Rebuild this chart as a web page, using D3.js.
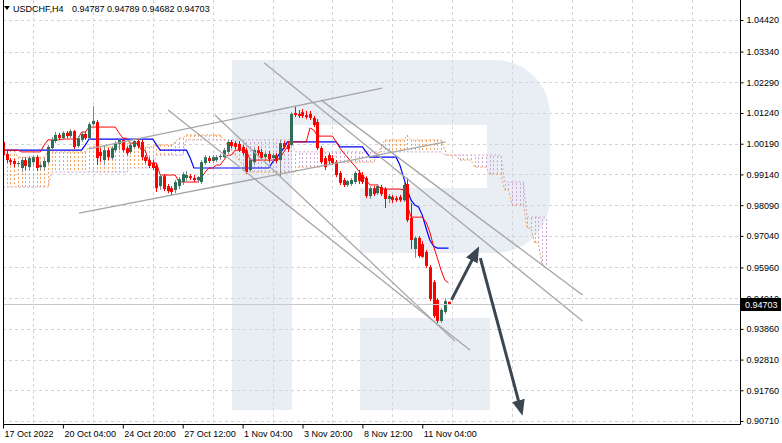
<!DOCTYPE html>
<html>
<head>
<meta charset="utf-8">
<script src="https://cdn.jsdelivr.net/npm/d3@7/dist/d3.min.js"></script>
<style>
  body { margin: 0; background: #fff; }
  svg { display: block; font-family: "Liberation Sans", Arial, sans-serif; }
</style>
</head>
<body>
<div id="chart"></div>
<script>
// ---- data (H4 bars, first bar = 17 Oct 2022 12:00) ----
const symbol = "USDCHF,H4";
const lastQuote = [0.94787, 0.94789, 0.94682, 0.94703];

const openP = [1.0025,0.9984,0.9963,0.9960,0.9950,0.9936,0.9963,0.9939,0.9956,0.9973,
  0.9939,0.9939,0.9956,1.0004,1.0028,1.0049,1.0038,1.0056,1.0045,1.0062,
  1.0011,1.0032,1.0052,1.0038,1.0086,1.0093,0.9991,0.9963,0.9997,0.9970,
  0.9997,1.0018,1.0032,1.0004,0.9991,1.0008,1.0028,1.0025,0.9973,0.9963,
  0.9953,0.9943,0.9874,0.9908,0.9874,0.9867,0.9861,0.9874,0.9888,0.9902,
  0.9908,0.9902,0.9895,0.9888,0.9953,0.9970,0.9960,0.9963,0.9973,0.9973,
  0.9991,1.0025,1.0021,1.0018,1.0008,0.9997,0.9929,0.9956,0.9997,0.9991,
  0.9973,0.9984,0.9970,0.9980,0.9963,1.0021,1.0015,1.0015,1.0124,1.0121,
  1.0127,1.0117,1.0121,1.0107,1.0093,1.0004,0.9970,0.9980,0.9970,0.9956,
  0.9919,0.9895,0.9878,0.9881,0.9888,0.9919,0.9912,0.9902,0.9840,0.9867,
  0.9850,0.9871,0.9864,0.9830,0.9837,0.9833,0.9837,0.9826,0.9881,0.9765,
  0.9659,0.9697,0.9676,0.9649,0.9597,0.9546,0.9485,0.9413,0.9444,0.94787];

const highP = [1.0038,0.9997,0.9970,0.9967,0.9960,0.9973,0.9973,0.9977,0.9980,0.9980,
  0.9953,0.9970,1.0015,1.0042,1.0059,1.0056,1.0062,1.0062,1.0069,1.0066,
  1.0045,1.0059,1.0059,1.0093,1.0148,1.0100,1.0004,1.0011,1.0004,1.0011,
  1.0028,1.0038,1.0038,1.0011,1.0021,1.0035,1.0035,1.0032,0.9980,0.9973,
  0.9963,0.9950,0.9915,0.9915,0.9881,0.9874,0.9895,0.9905,0.9922,0.9926,
  0.9915,0.9912,0.9908,0.9963,0.9980,0.9977,0.9980,0.9980,0.9984,1.0004,
  1.0032,1.0032,1.0028,1.0028,1.0015,1.0004,0.9970,1.0004,1.0011,1.0001,
  0.9991,0.9994,0.9987,0.9987,1.0032,1.0028,1.0028,1.0127,1.0145,1.0134,
  1.0138,1.0131,1.0131,1.0114,1.0103,1.0011,0.9977,0.9987,0.9980,0.9963,
  0.9926,0.9902,0.9895,0.9902,0.9926,0.9929,0.9922,0.9908,0.9874,0.9874,
  0.9881,0.9878,0.9871,0.9847,0.9844,0.9840,0.9844,0.9885,0.9902,0.9816,
  0.9703,0.9703,0.9686,0.9656,0.9604,0.9553,0.9491,0.9457,0.9491,0.94789];

const lowP = [0.9970,0.9953,0.9946,0.9939,0.9939,0.9922,0.9929,0.9929,0.9943,0.9926,
  0.9929,0.9929,0.9950,0.9997,1.0021,1.0032,1.0032,1.0038,1.0038,1.0001,
  1.0004,1.0025,1.0032,1.0032,1.0080,0.9946,0.9956,0.9946,0.9963,0.9963,
  0.9991,0.9997,0.9991,0.9980,0.9984,1.0001,1.0004,0.9963,0.9953,0.9936,
  0.9929,0.9854,0.9861,0.9857,0.9850,0.9844,0.9850,0.9864,0.9878,0.9891,
  0.9895,0.9888,0.9885,0.9881,0.9946,0.9953,0.9953,0.9956,0.9963,0.9970,
  0.9984,1.0004,1.0001,0.9991,0.9980,0.9915,0.9922,0.9946,0.9977,0.9963,
  0.9963,0.9956,0.9960,0.9953,0.9905,1.0001,0.9991,1.0011,1.0110,1.0107,
  1.0107,1.0103,1.0100,1.0076,0.9997,0.9950,0.9929,0.9950,0.9946,0.9905,
  0.9878,0.9871,0.9871,0.9874,0.9881,0.9881,0.9881,0.9833,0.9830,0.9840,
  0.9844,0.9840,0.9799,0.9816,0.9816,0.9820,0.9820,0.9820,0.9751,0.9659,
  0.9629,0.9629,0.9629,0.9594,0.9481,0.9423,0.9406,0.9406,0.9437,0.94682];

const closeP = [0.9980,0.9963,0.9956,0.9950,0.9953,0.9963,0.9943,0.9970,0.9973,0.9936,
  0.9946,0.9960,1.0008,1.0032,1.0049,1.0038,1.0056,1.0045,1.0062,1.0008,
  1.0038,1.0052,1.0038,1.0086,1.0097,0.9970,0.9977,0.9997,0.9973,1.0004,
  1.0021,1.0032,0.9997,0.9987,1.0015,1.0028,1.0011,0.9973,0.9960,0.9943,
  0.9936,0.9867,0.9908,0.9864,0.9857,0.9854,0.9888,0.9898,0.9915,0.9912,
  0.9902,0.9895,0.9905,0.9956,0.9973,0.9960,0.9973,0.9973,0.9977,0.9997,
  1.0025,1.0011,1.0008,0.9997,0.9987,0.9922,0.9963,0.9997,0.9987,0.9970,
  0.9984,0.9967,0.9980,0.9960,1.0021,1.0008,1.0001,1.0121,1.0117,1.0114,
  1.0114,1.0110,1.0107,1.0083,1.0004,0.9956,0.9939,0.9960,0.9953,0.9912,
  0.9885,0.9878,0.9891,0.9895,0.9919,0.9891,0.9888,0.9840,0.9867,0.9847,
  0.9874,0.9847,0.9830,0.9840,0.9826,0.9826,0.9826,0.9878,0.9758,0.9690,
  0.9697,0.9635,0.9632,0.9601,0.9488,0.9430,0.9413,0.9451,0.9481,0.94703];

// Ichimoku lines, one value per bar
const tenkan = [0.9997,0.9997,0.9997,0.9997,0.9997,0.9991,0.9991,0.9991,0.9991,0.9991,
  0.9991,1.0015,1.0032,1.0032,1.0032,1.0032,1.0035,1.0035,1.0035,1.0035,
  1.0035,1.0059,1.0059,1.0076,1.0076,1.0076,1.0076,1.0076,1.0076,1.0076,
  1.0076,1.0056,1.0038,1.0038,1.0021,1.0021,1.0021,0.9997,0.9997,0.9953,
  0.9953,0.9953,0.9912,0.9912,0.9912,0.9912,0.9912,0.9888,0.9888,0.9888,
  0.9888,0.9888,0.9888,0.9902,0.9922,0.9936,0.9936,0.9946,0.9946,0.9963,
  0.9980,0.9980,0.9997,0.9997,0.9997,0.9997,0.9963,0.9963,0.9963,0.9963,
  0.9963,0.9963,0.9963,0.9963,0.9970,0.9991,1.0008,1.0025,1.0025,1.0025,
  1.0025,1.0025,1.0073,1.0066,1.0045,1.0045,1.0045,1.0045,1.0045,1.0025,
  1.0004,0.9987,0.9973,0.9956,0.9943,0.9926,0.9912,0.9895,0.9878,0.9878,
  0.9878,0.9864,0.9864,0.9864,0.9864,0.9864,0.9864,0.9861,0.9809,0.9768,
  0.9768,0.9768,0.9768,0.9751,0.9717,0.9669,0.9629,0.9587,0.9553,0.9543];

const kijun = [0.9997,0.9997,0.9997,0.9997,0.9997,0.9997,0.9997,0.9997,0.9997,0.9997,
  0.9997,0.9997,0.9997,0.9997,0.9997,0.9997,0.9997,0.9997,0.9997,0.9997,
  0.9997,0.9997,1.0015,1.0035,1.0035,1.0035,1.0035,1.0035,1.0035,1.0035,
  1.0035,1.0035,1.0035,1.0035,1.0035,1.0035,1.0035,1.0035,1.0035,1.0035,
  1.0035,1.0015,0.9997,0.9997,0.9997,0.9997,0.9997,0.9997,0.9997,0.9997,
  0.9970,0.9936,0.9936,0.9936,0.9936,0.9936,0.9936,0.9936,0.9936,0.9936,
  0.9936,0.9936,0.9936,0.9936,0.9936,0.9936,0.9936,0.9936,0.9936,0.9936,
  0.9936,0.9936,0.9956,0.9970,0.9987,1.0004,1.0025,1.0025,1.0025,1.0025,
  1.0025,1.0025,1.0025,1.0025,1.0025,1.0025,1.0025,1.0025,1.0025,1.0025,
  1.0008,1.0008,1.0008,1.0008,1.0008,1.0008,1.0008,0.9991,0.9973,0.9973,
  0.9973,0.9973,0.9973,0.9973,0.9973,0.9973,0.9946,0.9905,0.9861,0.9826,
  0.9809,0.9803,0.9775,0.9731,0.9690,0.9669,0.9662,0.9662,0.9662,0.9662];

// cloud, already shifted 26 bars ahead (146 values)
const senkouA = [0.9997,0.9997,0.9997,0.9997,0.9973,0.9973,0.9973,0.9973,0.9973,0.9973,
  0.9973,0.9973,0.9991,0.9991,0.9991,0.9991,0.9991,0.9991,0.9991,0.9991,
  0.9991,0.9991,0.9991,1.0008,1.0008,1.0008,1.0008,1.0008,1.0008,1.0008,
  1.0008,1.0008,1.0021,1.0021,1.0021,1.0021,1.0021,1.0008,1.0008,1.0008,
  1.0008,1.0015,1.0015,1.0015,1.0015,1.0015,1.0025,1.0038,1.0038,1.0049,
  1.0049,1.0049,1.0049,1.0049,1.0049,1.0049,1.0049,1.0049,1.0049,1.0032,
  1.0015,0.9997,0.9980,0.9963,0.9946,0.9936,0.9922,0.9922,0.9922,0.9922,
  0.9922,0.9922,0.9922,0.9922,0.9922,0.9922,0.9922,0.9922,0.9922,0.9939,
  0.9939,0.9939,0.9939,0.9939,0.9939,0.9939,0.9956,0.9956,0.9956,0.9956,
  0.9956,0.9956,0.9956,0.9956,0.9956,0.9956,0.9956,0.9956,0.9956,0.9956,
  0.9980,1.0008,1.0032,1.0032,1.0032,1.0032,1.0032,1.0032,1.0049,1.0032,
  1.0032,1.0032,1.0032,1.0032,1.0032,1.0032,1.0032,1.0032,0.9997,0.9980,
  0.9980,0.9980,0.9963,0.9963,0.9963,0.9963,0.9939,0.9939,0.9939,0.9939,
  0.9915,0.9915,0.9915,0.9915,0.9861,0.9861,0.9809,0.9809,0.9809,0.9809,
  0.9731,0.9731,0.9680,0.9680,0.9604,0.9604];

const senkouB = [0.9871,0.9871,0.9871,0.9871,0.9871,0.9871,0.9871,0.9871,0.9871,0.9871,
  0.9871,0.9871,0.9871,0.9922,0.9922,0.9922,0.9922,0.9922,0.9922,0.9922,
  0.9922,0.9922,0.9922,0.9922,0.9922,0.9922,0.9922,0.9922,0.9922,0.9922,
  0.9922,0.9922,0.9922,0.9922,0.9936,0.9936,0.9936,0.9936,0.9936,0.9936,
  0.9936,0.9980,0.9980,0.9980,0.9980,0.9980,0.9980,0.9980,0.9980,1.0032,
  1.0032,1.0032,1.0032,1.0032,1.0032,1.0032,1.0032,1.0032,1.0032,1.0032,
  1.0032,1.0032,1.0032,1.0032,1.0032,1.0032,1.0032,1.0032,1.0032,1.0032,
  1.0032,1.0032,1.0032,1.0032,1.0032,1.0032,1.0032,1.0032,0.9991,0.9991,
  0.9991,0.9991,0.9991,0.9991,0.9991,0.9991,0.9991,0.9991,0.9991,0.9991,
  0.9991,0.9991,0.9991,0.9991,0.9991,0.9991,0.9991,0.9991,0.9991,0.9991,
  0.9991,0.9991,0.9991,0.9991,0.9991,0.9991,0.9991,0.9991,0.9991,0.9991,
  0.9991,0.9991,0.9991,0.9991,0.9991,0.9991,0.9991,0.9991,0.9980,0.9980,
  0.9980,0.9980,0.9980,0.9980,0.9980,0.9980,0.9980,0.9980,0.9980,0.9980,
  0.9980,0.9980,0.9980,0.9980,0.9888,0.9888,0.9888,0.9888,0.9888,0.9888,
  0.9768,0.9768,0.9768,0.9768,0.9768,0.9768];

// axis ticks
const timeTicks = [0, 16, 32, 48, 64, 80, 96, 112];
const timeLabels = ["17 Oct 2022", "20 Oct 04:00", "24 Oct 20:00", "27 Oct 12:00",
  "1 Nov 04:00", "3 Nov 20:00", "8 Nov 12:00", "11 Nov 04:00"];
const priceTicks = [1.04420, 1.03340, 1.02290, 1.01240, 1.00190, 0.99140, 0.98090,
  0.97040, 0.95960, 0.94910, 0.93860, 0.92810, 0.91760, 0.90710];

// drawn objects as [bar, price] pairs
const trendLines = [
  [[23.0, 1.0001], [101.3, 1.0209]],
  [[20.3, 0.9782], [118.2, 1.0025]],
  [[44.1, 1.0134], [124.7, 0.9314]],
  [[56.6, 1.0117], [120.7, 0.9344]],
  [[69.8, 1.0295], [154.8, 0.9413]],
  [[85.0, 1.0168], [154.8, 0.9502]]
];
const arrows = [
  [[119.8, 0.9485], [126.7, 0.9656]],
  [[127.5, 0.9628], [138.5, 0.9102]]
];

function drawChart() {
  const width = 782, height = 443;
  const plot = { left: 3, right: 740, top: 0, bottom: 424 };

  const svg = d3.select("#chart").append("svg")
    .attr("width", width)
    .attr("height", height);

  svg.append("rect").attr("width", width).attr("height", height).attr("fill", "#fff");

  const x = d3.scaleLinear().domain([0, 119]).range([3, 448.5]);
  const y = d3.scaleLinear().domain([0.90710, 1.04420]).range([421, 20]);

  svg.append("clipPath").attr("id", "plot-clip")
    .append("rect")
    .attr("x", plot.left).attr("y", plot.top)
    .attr("width", plot.right - plot.left).attr("height", plot.bottom - plot.top);

  const g = svg.append("g").attr("clip-path", "url(#plot-clip)");

  // watermark logo
  g.append("path")
    .attr("d", "M232,60 H495 A55,55 0 0 1 550,115 V198 A55,55 0 0 1 495,253 H360 V188 H487 V125 H292 V410 H232 Z")
    .attr("fill", "#e9eef4");
  g.append("rect")
    .attr("x", 360).attr("y", 318).attr("width", 130).attr("height", 92)
    .attr("fill", "#e9eef4");

  // grid
  g.selectAll(".hgrid")
    .data(priceTicks)
    .join("line")
    .attr("class", "hgrid")
    .attr("x1", plot.left).attr("x2", plot.right)
    .attr("y1", d => Math.round(y(d)) + 0.5)
    .attr("y2", d => Math.round(y(d)) + 0.5)
    .attr("stroke", "#d4d4d4")
    .attr("stroke-dasharray", "3,3");

  const gridBars = d3.range(8, 200, 16).filter(b => x(b) < plot.right);
  g.selectAll(".vgrid")
    .data(gridBars)
    .join("line")
    .attr("class", "vgrid")
    .attr("x1", d => Math.round(x(d)) + 0.5)
    .attr("x2", d => Math.round(x(d)) + 0.5)
    .attr("y1", plot.top).attr("y2", plot.bottom)
    .attr("stroke", "#d4d4d4")
    .attr("stroke-dasharray", "3,3");

  // cloud hatch
  const cloudIdx = d3.range(senkouA.length);
  g.selectAll(".cloud")
    .data(cloudIdx)
    .join("line")
    .attr("class", "cloud")
    .attr("x1", d => Math.round(x(d)) + 0.5)
    .attr("x2", d => Math.round(x(d)) + 0.5)
    .attr("y1", d => y(senkouA[d]))
    .attr("y2", d => y(senkouB[d]))
    .attr("stroke", d => senkouA[d] >= senkouB[d] ? "#f2a25e" : "#cda6d4")
    .attr("stroke-dasharray", "2,2");

  const lineGen = d3.line().x((d, i) => x(i)).y(d => y(d));

  g.append("path").datum(senkouA)
    .attr("fill", "none").attr("stroke", "#f2a25e")
    .attr("stroke-dasharray", "2,2").attr("d", lineGen);
  g.append("path").datum(senkouB)
    .attr("fill", "none").attr("stroke", "#cda6d4")
    .attr("stroke-dasharray", "2,2").attr("d", lineGen);

  // tenkan / kijun
  g.append("path").datum(kijun)
    .attr("fill", "none").attr("stroke", "#0000ff").attr("stroke-width", 1.2)
    .attr("d", lineGen);
  g.append("path").datum(tenkan)
    .attr("fill", "none").attr("stroke", "#ff0000").attr("stroke-width", 1)
    .attr("d", lineGen);

  // candles
  const bars = d3.range(openP.length);
  const isUp = i => closeP[i] >= openP[i];

  g.selectAll(".wick")
    .data(bars)
    .join("line")
    .attr("class", "wick")
    .attr("x1", d => Math.round(x(d)) + 0.5)
    .attr("x2", d => Math.round(x(d)) + 0.5)
    .attr("y1", d => y(highP[d]))
    .attr("y2", d => y(lowP[d]))
    .attr("stroke", d => isUp(d) ? "#7f8a8a" : "#ff0000");

  g.selectAll(".body")
    .data(bars)
    .join("rect")
    .attr("class", "body")
    .attr("x", d => Math.round(x(d)) - 1)
    .attr("width", 3)
    .attr("y", d => y(Math.max(openP[d], closeP[d])))
    .attr("height", d => Math.max(1, Math.abs(y(openP[d]) - y(closeP[d]))))
    .attr("fill", d => isUp(d) ? "#2f6d57" : "#ff0000");

  // trend lines
  g.selectAll(".trend")
    .data(trendLines)
    .join("line")
    .attr("class", "trend")
    .attr("x1", d => x(d[0][0])).attr("y1", d => y(d[0][1]))
    .attr("x2", d => x(d[1][0])).attr("y2", d => y(d[1][1]))
    .attr("stroke", "#a6a6a6")
    .attr("stroke-width", 1.3);

  // current price line
  g.append("line")
    .attr("x1", plot.left).attr("x2", plot.right)
    .attr("y1", Math.round(y(lastQuote[3])) + 0.5)
    .attr("y2", Math.round(y(lastQuote[3])) + 0.5)
    .attr("stroke", "#c8c8c8");

  // arrows
  svg.append("defs").append("marker")
    .attr("id", "head")
    .attr("viewBox", "0 0 16 13")
    .attr("refX", 12).attr("refY", 6.5)
    .attr("markerWidth", 16).attr("markerHeight", 13)
    .attr("markerUnits", "userSpaceOnUse")
    .attr("orient", "auto")
    .append("path")
    .attr("d", "M0,0 L16,6.5 L0,13 Z")
    .attr("fill", "#3b4650");

  g.selectAll(".arrow")
    .data(arrows)
    .join("line")
    .attr("class", "arrow")
    .attr("x1", d => x(d[0][0])).attr("y1", d => y(d[0][1]))
    .attr("x2", d => x(d[1][0])).attr("y2", d => y(d[1][1]))
    .attr("stroke", "#3b4650")
    .attr("stroke-width", 3)
    .attr("marker-end", "url(#head)");

  // frame
  svg.append("path")
    .attr("d", `M${plot.left + 0.5},${plot.top} V${plot.bottom + 0.5} H${plot.right + 0.5} V${plot.top}`)
    .attr("fill", "none").attr("stroke", "#000");

  // price axis
  const yAxis = svg.append("g")
    .attr("transform", `translate(${plot.right + 0.5},0)`)
    .call(d3.axisRight(y).tickValues(priceTicks).tickSize(3).tickPadding(3)
      .tickFormat(d3.format(".5f")));
  yAxis.select(".domain").remove();
  yAxis.selectAll("text").attr("font-size", 9).attr("fill", "#000")
    .attr("font-family", "Liberation Sans, Arial, sans-serif");

  // time axis
  const xAxis = svg.append("g")
    .attr("transform", `translate(0,${plot.bottom + 0.5})`)
    .call(d3.axisBottom(x).tickValues(timeTicks).tickSize(4).tickPadding(2)
      .tickFormat((d, i) => timeLabels[i]));
  xAxis.select(".domain").remove();
  xAxis.selectAll("text").attr("font-size", 9).attr("fill", "#000")
    .attr("text-anchor", "start").attr("dx", 1)
    .attr("font-family", "Liberation Sans, Arial, sans-serif");

  // last price tag
  const yLast = Math.round(y(lastQuote[3]));
  svg.append("rect")
    .attr("x", plot.right + 1).attr("y", yLast - 6)
    .attr("width", 40).attr("height", 13)
    .attr("fill", "#000");
  svg.append("text")
    .attr("x", plot.right + 5).attr("y", yLast + 4)
    .attr("font-size", 9).attr("fill", "#fff")
    .text(d3.format(".5f")(lastQuote[3]));

  // title
  svg.append("path").attr("d", "M4,6 L10,6 L7,10 Z").attr("fill", "#000");
  svg.append("text")
    .attr("x", 13).attr("y", 12)
    .attr("font-size", 9).attr("fill", "#000")
    .text(symbol);
  svg.append("text")
    .attr("x", 72).attr("y", 12)
    .attr("font-size", 9).attr("fill", "#000")
    .text(lastQuote.map(d3.format(".5f")).join(" "));
}

drawChart();
</script>
</body>
</html>
